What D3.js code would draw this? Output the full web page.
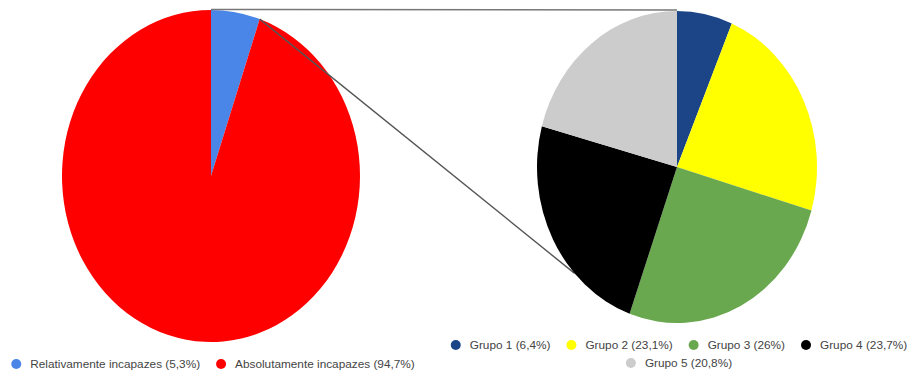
<!DOCTYPE html>
<html>
<head>
<meta charset="utf-8">
<script src="https://cdn.jsdelivr.net/npm/d3@7"></script>
<style>
  body { margin: 0; background: #fff; }
  text { font-family: "Liberation Sans", Arial, sans-serif; }
</style>
</head>
<body>
<script>
// main pie
var mainLabels = ["Relativamente incapazes (5,3%)", "Absolutamente incapazes (94,7%)"];
var mainValues = [5.3, 94.7];
var mainColors = ["#4a86e8", "#ff0000"];

// breakdown of the small slice
var groupLabels = ["Grupo 1 (6,4%)", "Grupo 2 (23,1%)", "Grupo 3 (26%)", "Grupo 4 (23,7%)", "Grupo 5 (20,8%)"];
var groupValues = [6.4, 23.1, 26, 23.7, 20.8];
var groupColors = ["#1c4587", "#ffff00", "#6aa84f", "#000000", "#cccccc"];

var w = 907, h = 371;

var svg = d3.select("body").append("svg")
    .attr("width", w)
    .attr("height", h);

// pies are stretched ellipses in the original
var left = {cx: 211, cy: 176, rx: 149, ry: 166};
var right = {cx: 677, cy: 167, rx: 140, ry: 156};

var pie = d3.pie().sort(null).value(function(d) { return d; });
var arc = d3.arc().innerRadius(0).outerRadius(100);

function drawPie(values, colors, o) {
  var g = svg.append("g")
    .attr("transform", "translate(" + o.cx + "," + o.cy + ") scale(" + (o.rx / 100) + "," + (o.ry / 100) + ")");
  g.selectAll("path")
    .data(pie(values))
    .enter().append("path")
    .attr("d", arc)
    .attr("fill", function(d, i) { return colors[i]; });
  return pie(values);
}

// point on an ellipse at a pie angle (0 = 12 o'clock, clockwise)
function pt(o, a) {
  return [o.cx + o.rx * Math.sin(a), o.cy - o.ry * Math.cos(a)];
}

var leftArcs = drawPie(mainValues, mainColors, left);

// connector lines, over the left pie
var p1 = pt(left, 0), p2 = pt(right, 0);
var p3 = pt(left, leftArcs[0].endAngle), p4 = pt(right, 227 * Math.PI / 180);
svg.append("line")
  .attr("x1", p1[0]).attr("y1", p1[1] - 0.5)
  .attr("x2", p2[0]).attr("y2", p2[1] - 1)
  .attr("stroke", "#777").attr("stroke-width", 1.6);
svg.append("line")
  .attr("x1", p3[0]).attr("y1", p3[1])
  .attr("x2", p4[0]).attr("y2", p4[1])
  .attr("stroke", "#555").attr("stroke-width", 1.4);

drawPie(groupValues, groupColors, right);

// legends, centred under each pie
function legend(labels, colors, cx, y0, maxW) {
  var g = svg.append("g");
  var items = labels.map(function(l, i) {
    var t = g.append("text")
      .attr("font-size", "11.8px")
      .attr("fill", "#444")
      .attr("dy", "0.35em")
      .text(l);
    return {t: t, w: 15 + t.node().getComputedTextLength(), c: colors[i]};
  });
  var gap = 20, rows = [[]], rw = [0];
  items.forEach(function(it) {
    var r = rows.length - 1;
    var nw = rw[r] + (rows[r].length ? gap : 0) + it.w;
    if (rows[r].length && nw > maxW) { rows.push([it]); rw.push(it.w); }
    else { rows[r].push(it); rw[r] = nw; }
  });
  rows.forEach(function(row, r) {
    var x = cx - rw[r] / 2 + 5, y = y0 + r * 18;
    row.forEach(function(it) {
      g.append("circle").attr("cx", x).attr("cy", y).attr("r", 5).attr("fill", it.c);
      it.t.attr("x", x + 14).attr("y", y);
      x += it.w + gap;
    });
  });
}

legend(mainLabels, mainColors, 211, 364, 500);
legend(groupLabels, groupColors, 677, 345, 470);
</script>
</body>
</html>
